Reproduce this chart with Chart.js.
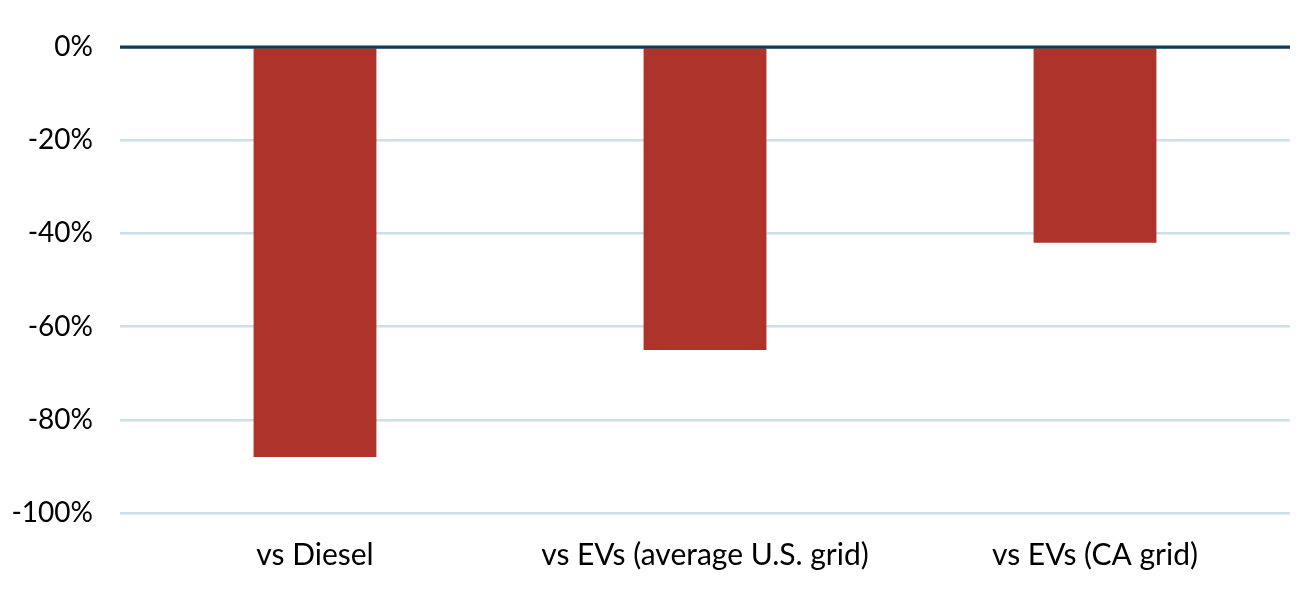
<!DOCTYPE html>
<html>
<head>
<meta charset="utf-8">
<script src="https://cdn.jsdelivr.net/npm/chart.js@4"></script>
<style>
html,body{margin:0;padding:0;background:#fff;}
#wrap{width:1312px;height:593px;}
</style>
</head>
<body>
<div id="wrap"><canvas id="c" width="1312" height="593"></canvas></div>
<script>
const categories = ["vs Diesel", "vs EVs (average U.S. grid)", "vs EVs (CA grid)"];
const reductions = [-88, -65, -42];
const yTicks = [0, -20, -40, -60, -80, -100];

const FONT = "Lato, 'Open Sans', sans-serif";

new Chart(document.getElementById('c'), {
  type: 'bar',
  data: {
    labels: categories,
    datasets: [{
      data: reductions,
      backgroundColor: '#ad332b',
      borderWidth: 0,
      barPercentage: 0.315,
      categoryPercentage: 1.0
    }]
  },
  options: {
    responsive: false,
    animation: false,
    layout: { padding: { top: 47, right: 22, left: 0, bottom: 0 } },
    plugins: { legend: { display: false }, tooltip: { enabled: false } },
    scales: {
      x: {
        grid: { display: false, drawTicks: false },
        border: { display: false },
        ticks: { color: '#000', font: { family: FONT, size: 30 }, padding: 24, maxRotation: 0 },
        afterFit: s => { s.height = 80; }
      },
      y: {
        min: -100, max: 0,
        afterBuildTicks: s => { s.ticks = yTicks.map(v => ({ value: v })); },
        grid: {
          drawTicks: false,
          lineWidth: 2.5,
          color: ctx => ctx.tick && ctx.tick.value === 0 ? '#0f3a57' : '#cde0ea'
        },
        border: { display: false },
        ticks: {
          color: '#000',
          font: { family: FONT, size: 28 },
          padding: 27,
          callback: v => v + '%'
        },
        afterFit: s => { s.width = 120; }
      }
    }
  },
  plugins: [{
    id: 'zeroOnTop',
    afterDatasetsDraw(chart) {
      const y = chart.scales.y.getPixelForValue(0);
      const ctx = chart.ctx;
      ctx.save();
      ctx.strokeStyle = '#0f3a57';
      ctx.lineWidth = 3;
      ctx.beginPath();
      ctx.moveTo(chart.chartArea.left, y);
      ctx.lineTo(chart.chartArea.right, y);
      ctx.stroke();
      ctx.restore();
    }
  }]
});
</script>
</body>
</html>
